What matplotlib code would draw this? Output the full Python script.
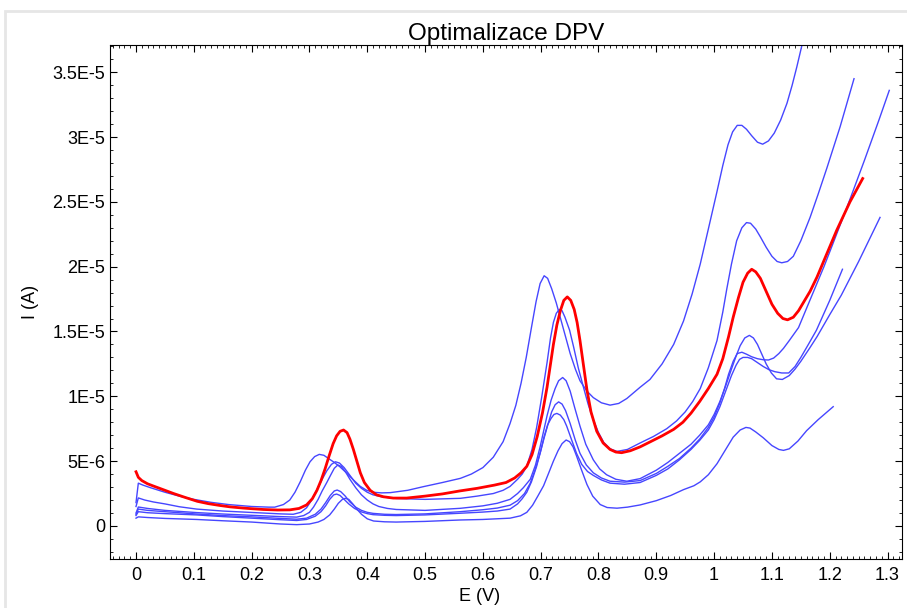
import numpy as np
import matplotlib
matplotlib.use("Agg")
import matplotlib.pyplot as plt
from matplotlib.ticker import MultipleLocator, FuncFormatter
from matplotlib.patches import Rectangle

plt.rcParams['font.family'] = ['Liberation Sans', 'DejaVu Sans']

# potential (V) and current (uA)
a_x = [0.0, 0.004, 0.012, 0.025, 0.05, 0.075, 0.1, 0.13, 0.16, 0.2, 0.23, 0.24, 0.255, 0.266,
       0.275, 0.284, 0.293, 0.301, 0.309, 0.317, 0.325, 0.333, 0.343, 0.353, 0.365, 0.376, 0.388,
       0.399, 0.41, 0.425, 0.44, 0.47, 0.497, 0.53, 0.561, 0.58, 0.6, 0.618, 0.635, 0.647, 0.657,
       0.666, 0.675, 0.684, 0.692, 0.699, 0.706, 0.712, 0.719, 0.727, 0.735, 0.743, 0.751, 0.76,
       0.768, 0.78, 0.791, 0.805, 0.82, 0.835, 0.849, 0.872, 0.889, 0.91, 0.93, 0.947, 0.962,
       0.976, 0.99, 1.005, 1.015, 1.024, 1.032, 1.04, 1.048, 1.056, 1.065, 1.075, 1.084, 1.094,
       1.104, 1.115, 1.126, 1.135, 1.143, 1.152, 1.17]
a_y = [1.8, 3.3, 3.15, 2.95, 2.6, 2.3, 2.05, 1.82, 1.65, 1.5, 1.45, 1.45, 1.65, 2.0,
       2.6, 3.4, 4.3, 4.95, 5.35, 5.52, 5.45, 5.2, 4.9, 4.55, 4.05, 3.55, 3.05,
       2.75, 2.6, 2.55, 2.57, 2.75, 3.03, 3.35, 3.67, 4.0, 4.5, 5.3, 6.5, 7.9, 9.3,
       11.0, 13.0, 15.3, 17.3, 18.7, 19.3, 19.1, 18.3, 17.2, 15.9, 14.6, 13.3, 12.1,
       11.2, 10.4, 9.9, 9.5, 9.32, 9.45, 9.83, 10.7, 11.3, 12.5, 14.0, 15.8, 17.9,
       20.2, 22.9, 25.8, 27.8, 29.4, 30.4, 30.9, 30.9, 30.6, 30.1, 29.6, 29.45, 29.7,
       30.3, 31.3, 32.6, 34.0, 35.4, 37.1, 40.5]

b_x = [0.0, 0.004, 0.015, 0.03, 0.05, 0.075, 0.105, 0.15, 0.2, 0.25, 0.272, 0.285, 0.295, 0.304,
       0.313, 0.322, 0.33, 0.338, 0.345, 0.352, 0.36, 0.37, 0.38, 0.39, 0.4, 0.41, 0.425, 0.45,
       0.5, 0.561, 0.59, 0.618, 0.635, 0.647, 0.66, 0.668, 0.676, 0.685, 0.693, 0.702, 0.711,
       0.717, 0.722, 0.727, 0.732, 0.737, 0.742, 0.75, 0.757, 0.765, 0.774, 0.782, 0.791, 0.8,
       0.809, 0.82, 0.832, 0.85, 0.872, 0.895, 0.918, 0.935, 0.95, 0.963, 0.976, 0.99, 1.005,
       1.015, 1.022, 1.03, 1.039, 1.048, 1.056, 1.063, 1.072, 1.08, 1.09, 1.1, 1.109, 1.117,
       1.127, 1.137, 1.15, 1.166, 1.18, 1.195, 1.218, 1.242]
b_y = [1.5, 2.16, 2.0, 1.85, 1.7, 1.48, 1.3, 1.15, 1.04, 0.93, 0.9, 1.05, 1.4, 2.0,
       2.8, 3.6, 4.25, 4.75, 4.95, 4.85, 4.5, 3.9, 3.3, 2.9, 2.6, 2.4, 2.25, 2.12,
       2.05, 2.13, 2.3, 2.5, 2.75, 3.05, 3.6, 4.0, 4.6, 5.9, 7.6, 10.0, 12.6,
       14.5, 15.7, 16.4, 16.7, 16.6, 16.1, 15.1, 13.8, 12.2, 10.7, 9.4, 8.2, 7.2,
       6.45, 5.95, 5.75, 5.9, 6.4, 6.9, 7.5, 8.1, 8.8, 9.6, 10.6, 12.2, 14.3,
       16.5, 18.3, 20.2, 22.0, 23.0, 23.4, 23.35, 22.9, 22.3, 21.5, 20.8, 20.4, 20.3,
       20.4, 20.8, 22.0, 23.8, 25.6, 27.6, 30.8, 34.5]

c_x = [0.0, 0.004, 0.02, 0.05, 0.105, 0.15, 0.2, 0.25, 0.278, 0.295, 0.31, 0.32, 0.328, 0.336,
       0.343, 0.348, 0.354, 0.362, 0.37, 0.38, 0.39, 0.4, 0.41, 0.43, 0.45, 0.5, 0.561, 0.6,
       0.625, 0.647, 0.66, 0.672, 0.682, 0.69, 0.699, 0.706, 0.713, 0.719, 0.725, 0.731, 0.737,
       0.743, 0.751, 0.76, 0.768, 0.779, 0.791, 0.805, 0.82, 0.845, 0.872, 0.9, 0.92, 0.94,
       0.96, 0.975, 0.99, 1.0, 1.01, 1.018, 1.025, 1.033, 1.04, 1.048, 1.056, 1.065, 1.075,
       1.085, 1.094, 1.103, 1.112, 1.12, 1.13, 1.146, 1.16, 1.175, 1.19, 1.204, 1.23, 1.26,
       1.285, 1.303]
c_y = [0.9, 1.3, 1.2, 1.1, 0.92, 0.8, 0.7, 0.58, 0.52, 0.6, 0.9, 1.3, 1.8, 2.35,
       2.7, 2.77, 2.65, 2.3, 1.85, 1.45, 1.2, 1.05, 0.97, 0.9, 0.88, 0.93, 1.1, 1.25,
       1.38, 1.6, 1.95, 2.5, 3.3, 4.3, 5.6, 6.8, 7.9, 8.8, 9.35, 9.57, 9.4,
       8.9, 7.9, 6.6, 5.6, 4.7, 4.1, 3.7, 3.45, 3.38, 3.5, 4.05, 4.6, 5.2,
       6.0, 6.7, 7.6, 8.4, 9.5, 10.6, 11.7, 12.7, 13.3, 13.4, 13.25, 13.05, 12.9,
       12.82, 12.8, 12.95, 13.3, 13.7, 14.3, 15.3, 16.8, 18.4, 20.0, 21.6, 24.6, 28.2,
       31.3, 33.6]

d_x = [0.0, 0.004, 0.02, 0.05, 0.105, 0.15, 0.2, 0.25, 0.278, 0.295, 0.31, 0.32, 0.328, 0.335,
       0.342, 0.347, 0.353, 0.36, 0.368, 0.378, 0.39, 0.4, 0.41, 0.43, 0.45, 0.5, 0.561, 0.6,
       0.625, 0.647, 0.66, 0.668, 0.676, 0.684, 0.693, 0.7, 0.706, 0.712, 0.718, 0.723, 0.728,
       0.734, 0.74, 0.745, 0.753, 0.762, 0.771, 0.781, 0.791, 0.805, 0.82, 0.845, 0.872, 0.9,
       0.92, 0.94, 0.96, 0.975, 0.99, 1.0, 1.01, 1.02, 1.03, 1.038, 1.044, 1.05, 1.058, 1.065,
       1.075, 1.085, 1.095, 1.105, 1.117, 1.129, 1.14, 1.15, 1.163, 1.177, 1.2, 1.222]
d_y = [0.8, 1.1, 1.02, 0.95, 0.85, 0.72, 0.6, 0.48, 0.42, 0.5, 0.75, 1.1, 1.55, 2.05,
       2.4, 2.46, 2.35, 2.05, 1.7, 1.35, 1.08, 0.95, 0.87, 0.82, 0.8, 0.85, 0.98, 1.07,
       1.15, 1.3, 1.7, 2.1, 2.6, 3.4, 4.6, 5.8, 6.9, 7.8, 8.3, 8.6, 8.68,
       8.55, 8.2, 7.7, 6.7, 5.6, 4.75, 4.2, 3.9, 3.55, 3.3, 3.22, 3.35, 3.9,
       4.4, 5.1, 5.9, 6.6, 7.4, 8.2, 9.2, 10.4, 11.6, 12.4, 12.85, 13.0, 13.0, 12.9,
       12.6, 12.3, 12.05, 11.9, 11.8, 11.8, 12.3, 13.0, 14.0, 15.1, 17.4, 19.8]

e_x = [0.0, 0.004, 0.02, 0.05, 0.105, 0.15, 0.2, 0.25, 0.278, 0.29, 0.3, 0.307, 0.315, 0.322,
       0.33, 0.337, 0.343, 0.349, 0.355, 0.362, 0.37, 0.38, 0.39, 0.4, 0.41, 0.42, 0.435, 0.45,
       0.5, 0.561, 0.6, 0.625, 0.647, 0.66, 0.67, 0.682, 0.691, 0.699, 0.705, 0.711, 0.718,
       0.725, 0.731, 0.738, 0.744, 0.751, 0.759, 0.768, 0.778, 0.791, 0.802, 0.814, 0.83, 0.849,
       0.872, 0.9, 0.92, 0.94, 0.96, 0.975, 0.99, 1.0, 1.01, 1.02, 1.03, 1.038, 1.045, 1.053,
       1.061, 1.068, 1.075, 1.083, 1.09, 1.099, 1.108, 1.118, 1.13, 1.14, 1.15, 1.165, 1.178,
       1.2, 1.22, 1.25, 1.287]
e_y = [1.0, 1.46, 1.35, 1.2, 1.03, 0.92, 0.82, 0.72, 0.68, 0.8, 1.05, 1.45, 2.05, 2.7,
       3.35, 3.95, 4.45, 4.7, 4.6, 4.2, 3.6, 2.95, 2.4, 2.0, 1.7, 1.5, 1.35, 1.27,
       1.2, 1.36, 1.55, 1.75, 2.05, 2.5, 2.95, 3.6, 4.7, 6.1, 7.3, 8.5, 9.7,
       10.6, 11.2, 11.45, 11.2, 10.4, 9.1, 7.7, 6.3, 5.1, 4.4, 3.95, 3.6, 3.45,
       3.65, 4.3, 4.9, 5.6, 6.3, 7.0, 7.8, 8.6, 9.6, 10.8, 12.1, 13.1, 13.9, 14.5,
       14.7, 14.5, 14.0, 13.2, 12.5, 11.8, 11.35, 11.3, 11.6, 12.1, 12.7, 13.7, 14.6,
       16.3, 17.8, 20.4, 23.8]

f_x = [0.0, 0.004, 0.02, 0.05, 0.105, 0.15, 0.2, 0.25, 0.278, 0.3, 0.315, 0.325, 0.335, 0.343,
       0.35, 0.357, 0.362, 0.368, 0.375, 0.382, 0.39, 0.4, 0.411, 0.43, 0.45, 0.5, 0.561, 0.6,
       0.647, 0.665, 0.676, 0.686, 0.695, 0.705, 0.714, 0.722, 0.73, 0.737, 0.744, 0.75, 0.756,
       0.762, 0.77, 0.78, 0.79, 0.803, 0.815, 0.832, 0.85, 0.872, 0.9, 0.925, 0.947, 0.965,
       0.976, 0.99, 1.005, 1.02, 1.033, 1.045, 1.055, 1.062, 1.072, 1.085, 1.1, 1.112, 1.12,
       1.13, 1.145, 1.16, 1.18, 1.206]
f_y = [0.6, 0.7, 0.65, 0.58, 0.5, 0.4, 0.3, 0.15, 0.1, 0.15, 0.3, 0.5, 0.85, 1.3,
       1.75, 2.05, 2.13, 2.05, 1.7, 1.3, 0.9, 0.55, 0.38, 0.32, 0.3, 0.35, 0.46, 0.5,
       0.6, 0.78, 1.05, 1.6, 2.3, 3.1, 4.1, 5.0, 5.8, 6.35, 6.63, 6.5, 6.1,
       5.4, 4.4, 3.2, 2.3, 1.65, 1.42, 1.37, 1.45, 1.62, 1.95, 2.35, 2.8, 3.1,
       3.4, 3.95, 4.8, 5.9, 6.85, 7.4, 7.6, 7.55, 7.25, 6.8, 6.2, 5.9, 5.83,
       5.95, 6.55, 7.35, 8.2, 9.2]

red_x = [0.0, 0.004, 0.01, 0.02, 0.03, 0.047, 0.065, 0.085, 0.106, 0.125, 0.145, 0.163, 0.185,
         0.2, 0.22, 0.245, 0.266, 0.282, 0.295, 0.305, 0.313, 0.32, 0.327, 0.334, 0.341, 0.347,
         0.353, 0.359, 0.365, 0.37, 0.376, 0.382, 0.388, 0.395, 0.405, 0.416, 0.428, 0.445, 0.468,
         0.5, 0.53, 0.56, 0.59, 0.62, 0.64, 0.655, 0.666, 0.676, 0.685, 0.694, 0.703, 0.711,
         0.717, 0.722, 0.728, 0.734, 0.74, 0.746, 0.752, 0.758, 0.763, 0.768, 0.774, 0.78, 0.787,
         0.797, 0.808, 0.82, 0.83, 0.84, 0.855, 0.872, 0.89, 0.91, 0.93, 0.946, 0.96, 0.975,
         0.99, 1.005, 1.015, 1.025, 1.033, 1.042, 1.05, 1.058, 1.065, 1.072, 1.08, 1.091, 1.1,
         1.11, 1.119, 1.127, 1.137, 1.146, 1.154, 1.166, 1.178, 1.195, 1.212, 1.235, 1.257]
red_y = [4.18, 3.75, 3.5, 3.25, 3.08, 2.8, 2.5, 2.2, 1.9, 1.72, 1.58, 1.47, 1.38,
         1.33, 1.27, 1.23, 1.24, 1.35, 1.62, 2.1, 2.75, 3.5, 4.4, 5.4, 6.35, 6.95,
         7.3, 7.4, 7.2, 6.7, 5.9, 5.0, 4.1, 3.35, 2.75, 2.4, 2.25, 2.15, 2.15,
         2.3, 2.47, 2.7, 2.9, 3.15, 3.35, 3.7, 4.1, 4.6, 5.5, 6.9, 8.7, 10.7,
         12.5, 14.0, 15.5, 16.6, 17.4, 17.67, 17.4, 16.7, 15.7, 14.3, 12.4, 10.5, 8.8,
         7.3, 6.4, 5.9, 5.7, 5.65, 5.8, 6.1, 6.5, 6.95, 7.45, 8.0, 8.7, 9.6,
         10.6, 11.7, 12.9, 14.6, 16.1, 17.6, 18.8, 19.5, 19.8, 19.6, 19.1, 18.0, 17.1,
         16.4, 16.0, 15.9, 16.1, 16.6, 17.2, 18.1, 19.2, 21.0, 22.8, 25.0, 26.8]

blue_curves = [(a_x, a_y), (b_x, b_y), (c_x, c_y), (d_x, d_y), (e_x, e_y), (f_x, f_y)]


def y_fmt(v, pos):
    if abs(v) < 1e-12:
        return "0"
    e = int(np.floor(np.log10(abs(v)) + 1e-9))
    m = round(v / 10 ** e, 2)
    return f"{m:g}E{e}"


def x_fmt(v, pos):
    return f"{round(v, 2):g}"


fig = plt.figure(figsize=(9.07, 6.08), dpi=100)
# light grey frame of the original window
fig.add_artist(Rectangle((5 / 907, -0.1), 1.2, 1.1 - 11 / 608,
                         transform=fig.transFigure, fill=False,
                         edgecolor="#e6e6e6", linewidth=2))
ax = fig.add_axes([110 / 907, 1 - 559 / 608, 792 / 907, 514 / 608])

for xs, ys in blue_curves:
    ax.plot(xs, np.array(ys) * 1e-6, color="#4646ff", lw=1.0)
ax.plot(red_x, np.array(red_y) * 1e-6, color="#ff0000", lw=2.0)

ax.set_xlim(-0.045, 1.325)
ax.set_ylim(-2.55e-6, 3.71e-5)

ax.xaxis.set_major_locator(MultipleLocator(0.1))
ax.xaxis.set_minor_locator(MultipleLocator(0.01))
ax.yaxis.set_major_locator(MultipleLocator(5e-6))
ax.yaxis.set_minor_locator(MultipleLocator(1e-6))
ax.xaxis.set_major_formatter(FuncFormatter(x_fmt))
ax.yaxis.set_major_formatter(FuncFormatter(y_fmt))
ax.tick_params(which="both", direction="in", top=True, right=True, labelsize=13)
ax.tick_params(which="major", length=5)
ax.tick_params(which="minor", length=2.5)
ax.tick_params(axis="x", pad=6)

ax.set_title("Optimalizace DPV", fontsize=17.5, pad=0)
ax.set_xlabel("E (V)", fontsize=13)
ax.set_ylabel("I (A)", fontsize=13)
ax.xaxis.set_label_coords(0.466, -0.056)
ax.yaxis.set_label_coords(-0.09, 0.5)

fig.savefig("out.png", dpi=100)
